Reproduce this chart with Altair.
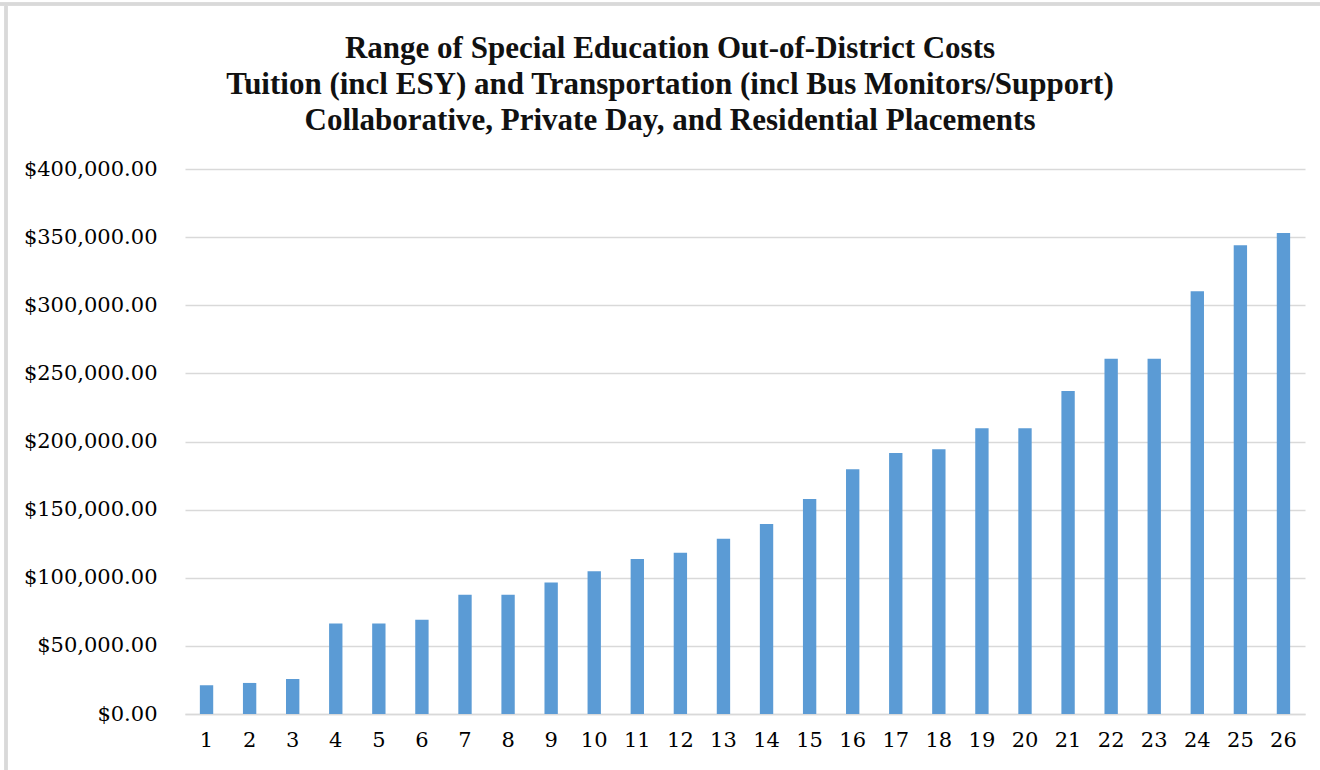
import altair as alt
import pandas as pd

# Placement index (1..26) and annual out-of-district cost per placement
placements = list(range(1, 27))
costs = [
    21100, 22800, 25700, 66500, 66500, 69200, 87600, 87600, 96600, 104700,
    113800, 118400, 128700, 139400, 157800, 179600, 191600, 194300, 209700, 209700,
    237000, 260800, 260800, 310200, 344000, 353000,
]
y_ticks = [0, 50000, 100000, 150000, 200000, 250000, 300000, 350000, 400000]
title_lines = [
    "Range of Special Education Out-of-District Costs",
    "Tuition (incl ESY) and Transportation (incl Bus Monitors/Support)",
    "Collaborative, Private Day, and Residential Placements",
]

df = pd.DataFrame({"placement": placements, "cost": costs})

GRID = "#d9d9d9"
SERIF = "DejaVu Serif"

bars = alt.Chart(df).mark_bar(color="#5B9BD5").encode(
    x=alt.X(
        "placement:O",
        title=None,
        scale=alt.Scale(paddingInner=0.69, paddingOuter=0.345),
        axis=alt.Axis(
            labelAngle=0,
            ticks=False,
            domain=True,
            domainColor=GRID,
            domainWidth=1.5,
            labelFont=SERIF,
            labelFontSize=21,
            labelColor="#000000",
            labelPadding=15,
            grid=False,
        ),
    ),
    y=alt.Y(
        "cost:Q",
        title=None,
        scale=alt.Scale(domain=[0, 400000], nice=False),
        axis=alt.Axis(
            values=y_ticks,
            format="$,.2f",
            ticks=False,
            domain=False,
            grid=True,
            gridColor=GRID,
            gridWidth=1.5,
            labelFont=SERIF,
            labelFontSize=21,
            labelColor="#000000",
            labelPadding=28,
        ),
    ),
)

# thin light frame along the top and left edges of the canvas
frame_top = alt.Chart(df).mark_rule(color=GRID, strokeWidth=2.5).encode(
    x=alt.value(-185), x2=alt.value(1135), y=alt.value(-165)
)
frame_left = alt.Chart(df).mark_rule(color=GRID, strokeWidth=2.5).encode(
    x=alt.value(-179), y=alt.value(-166), y2=alt.value(601)
)

chart = (
    alt.layer(frame_top, frame_left, bars)
    .properties(
        width=1120,
        height=545,
        background="white",
        title=alt.TitleParams(
            text=title_lines,
            font="Liberation Serif",
            fontSize=31,
            fontWeight="bold",
            color="#111111",
            anchor="middle",
            frame="group",
            lineHeight=36,
            offset=-135,
            dx=-75,
        ),
        autosize=alt.AutoSizeParams(type="none"),
        padding={"left": 185, "top": 169, "right": 15, "bottom": 56},
    )
    .configure_view(strokeWidth=0, stroke="transparent")
)

chart.save("out.html", embed_options={"renderer": "svg", "actions": False})
